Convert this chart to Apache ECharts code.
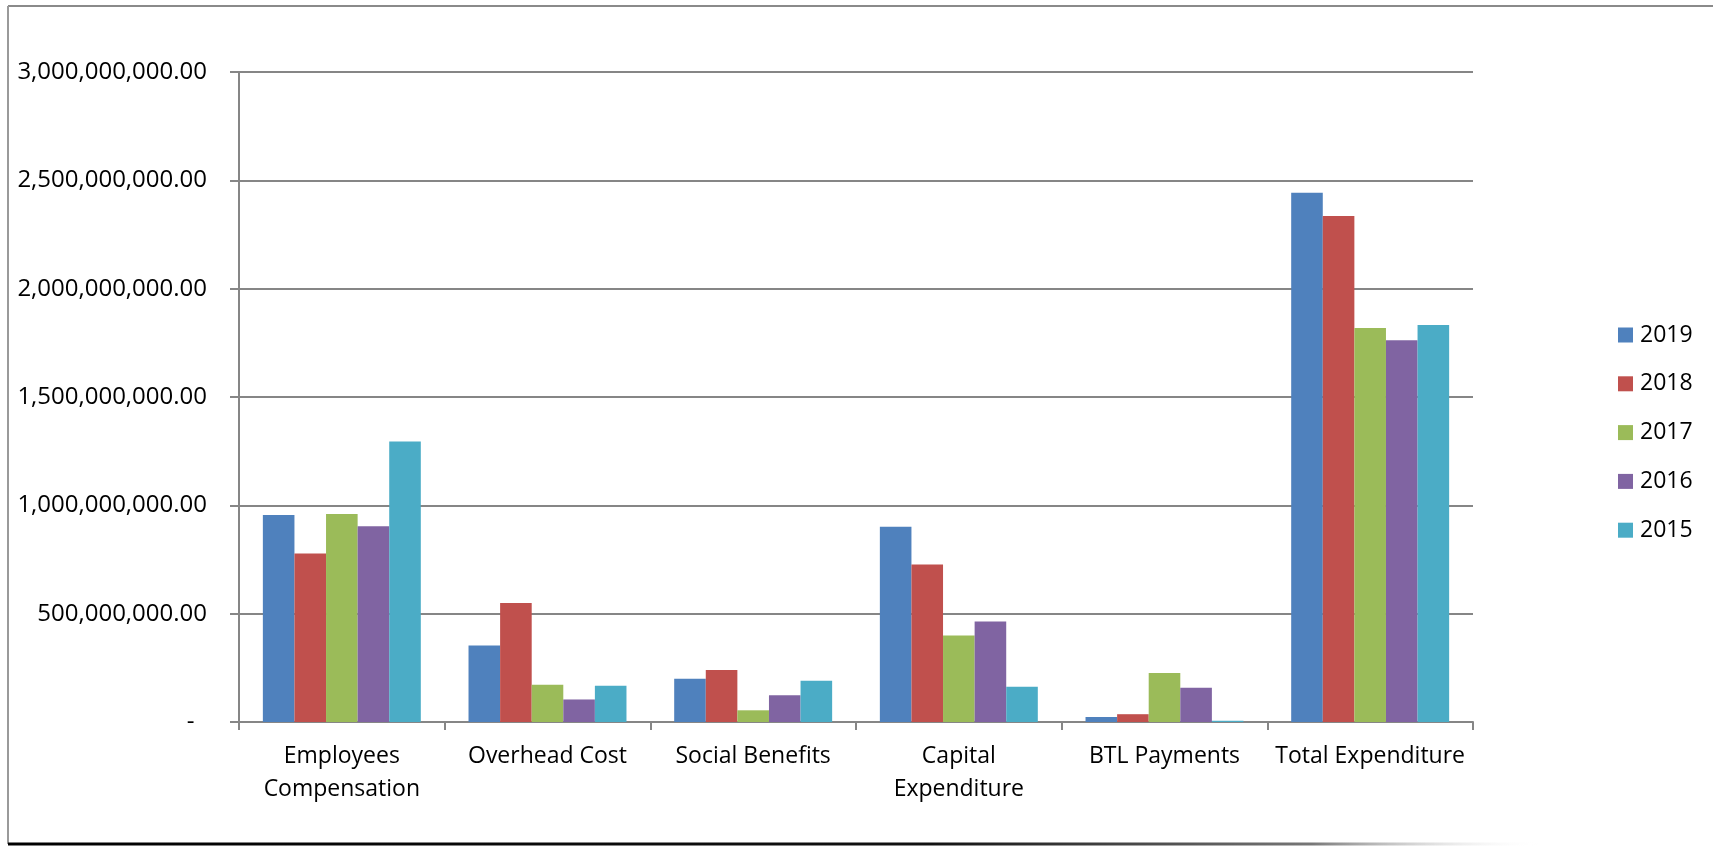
<!DOCTYPE html>
<html>
<head>
<meta charset="utf-8">
<script src="https://cdn.jsdelivr.net/npm/echarts@6/dist/echarts.min.js"></script>
<style>
html,body{margin:0;padding:0;background:#fff;}
#chart{width:1713px;height:849px;}
</style>
</head>
<body>
<div id="chart"></div>
<script>
const categories = ["Employees\nCompensation", "Overhead Cost", "Social Benefits", "Capital\nExpenditure", "BTL Payments", "Total Expenditure"];
const years = ["2019", "2018", "2017", "2016", "2015"];
const s2019 = [955000000, 353000000, 200000000, 901000000, 23000000, 2443000000];
const s2018 = [778000000, 549000000, 240000000, 727000000, 36000000, 2335000000];
const s2017 = [960000000, 172000000, 54000000, 399000000, 226000000, 1818000000];
const s2016 = [904000000, 104000000, 124000000, 464000000, 158000000, 1762000000];
const s2015 = [1295000000, 167000000, 190000000, 163000000, 6000000, 1832000000];
const yTicks = [0, 500000000, 1000000000, 1500000000, 2000000000, 2500000000, 3000000000];

const seriesData = [s2019, s2018, s2017, s2016, s2015];
const colors = ["#4F81BD", "#C0504D", "#9BBB59", "#8064A2", "#4BACC6"];
const FONT = "'Open Sans', 'Liberation Sans', sans-serif";

function fmt(v) {
  if (v === 0) return "-  ";
  return v.toLocaleString("en-US", {minimumFractionDigits: 2, maximumFractionDigits: 2});
}

const chart = echarts.init(document.getElementById("chart"), null, {renderer: "canvas"});
chart.setOption({
  animation: false,
  color: colors,
  grid: {left: 239, right: 240, top: 72, bottom: 127, containLabel: false},
  legend: {
    orient: "vertical",
    left: 1613,
    top: 318,
    itemWidth: 15,
    itemHeight: 15,
    itemGap: 24.8,
    icon: "rect",
    textStyle: {fontFamily: FONT, fontSize: 23, color: "#000", lineHeight: 24, padding: [0, 0, 0, 2]},
    data: years
  },
  xAxis: {
    type: "category",
    data: categories,
    axisLine: {lineStyle: {color: "#868686", width: 2}},
    axisTick: {show: true, length: 8, lineStyle: {color: "#868686", width: 2}, alignWithLabel: false},
    axisLabel: {fontFamily: FONT, fontSize: 23, color: "#000", lineHeight: 33, margin: 18, interval: 0}
  },
  yAxis: {
    type: "value",
    min: yTicks[0],
    max: yTicks[yTicks.length - 1],
    interval: yTicks[1] - yTicks[0],
    axisLine: {show: true, lineStyle: {color: "#868686", width: 2}},
    axisTick: {show: true, length: 9, lineStyle: {color: "#868686", width: 2}},
    splitLine: {lineStyle: {color: "#868686", width: 2}},
    axisLabel: {fontFamily: FONT, fontSize: 24, color: "#000", margin: 32, formatter: fmt}
  },
  series: years.map((y, i) => ({
    name: y,
    type: "bar",
    data: seriesData[i],
    barGap: "0%",
    barCategoryGap: "23.2%",
    itemStyle: {color: colors[i]}
  })),
  graphic: [
    {type: "line", shape: {x1: 8, y1: 6, x2: 1713, y2: 6}, style: {stroke: "#8a8a8a", lineWidth: 2}, silent: true},
    {type: "line", shape: {x1: 8, y1: 6, x2: 8, y2: 844}, style: {stroke: "#9a9a9a", lineWidth: 2}, silent: true},
    {type: "line", shape: {x1: 8, y1: 844, x2: 1540, y2: 844}, style: {
      stroke: new echarts.graphic.LinearGradient(0, 0, 1, 0, [
        {offset: 0, color: "#000"},
        {offset: 0.6, color: "#111"},
        {offset: 0.85, color: "#777"},
        {offset: 1, color: "rgba(255,255,255,0)"}
      ]), lineWidth: 3}, silent: true}
  ]
});
</script>
</body>
</html>
